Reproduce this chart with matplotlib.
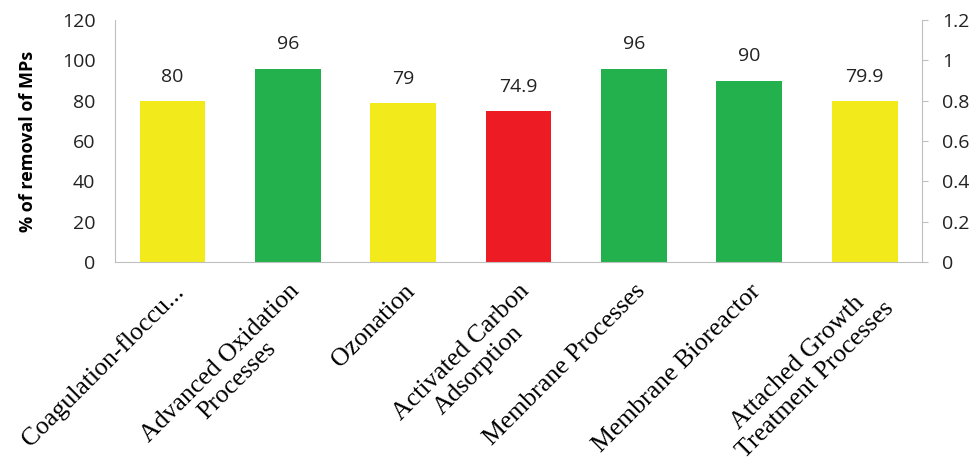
import matplotlib.pyplot as plt

# データ
categories = ["Coagulation-floccu...", "Advanced Oxidation\nProcesses", "Ozonation",
              "Activated Carbon\nAdsorption", "Membrane Processes", "Membrane Bioreactor",
              "Attached Growth\nTreatment Processes"]
removal = [80, 96, 79, 74.9, 96, 90, 79.9]
labels = ["80", "96", "79", "74.9", "96", "90", "79.9"]
colors = ["#F2EA1A", "#22B14C", "#F2EA1A", "#ED1C24", "#22B14C", "#22B14C", "#F2EA1A"]

fig = plt.figure(figsize=(9.73, 4.68), dpi=100)
ax = fig.add_axes([0.118, 0.440, 0.830, 0.517])

x = range(len(categories))
ax.bar(x, removal, width=0.57, color=colors)
for i, v in enumerate(removal):
    ax.text(i, v + 7.5, labels[i], ha="center", va="bottom", fontsize=14, family="Open Sans", color="#222222")

ax.set_xlim(-0.5, len(categories) - 0.5)
ax.set_ylim(0, 120)
ax.set_yticks(range(0, 121, 20))
ax.tick_params(axis="y", length=0, labelsize=14, pad=14, colors="#222222")
for t in ax.get_yticklabels():
    t.set_family("Open Sans")
ax.set_ylabel("% of removal of MPs", fontsize=13, fontweight="bold", family="Open Sans", labelpad=18)

ax.set_xticks(list(x))
ax.set_xticklabels(categories, rotation=45, ha="right", va="top", rotation_mode="anchor",
                   multialignment="center", family="Liberation Serif", fontsize=18.5,
                   linespacing=1.15)
ax.tick_params(axis="x", length=0, pad=13)

for s in ["top", "right"]:
    ax.spines[s].set_visible(False)
ax.spines["left"].set_color("#BFBFBF")
ax.spines["bottom"].set_color("#BFBFBF")

# 右側の軸
ax2 = ax.twinx()
ax2.set_ylim(0, 1.2)
ax2.set_yticks([0, 0.2, 0.4, 0.6, 0.8, 1, 1.2])
ax2.set_yticklabels(["0", "0.2", "0.4", "0.6", "0.8", "1", "1.2"])
ax2.tick_params(axis="y", length=4, labelsize=14, pad=10, colors="#222222")
ax2.tick_params(axis="y", color="#BFBFBF")
for t in ax2.get_yticklabels():
    t.set_family("Open Sans")
for s in ["top", "left", "bottom"]:
    ax2.spines[s].set_visible(False)
ax2.spines["right"].set_color("#BFBFBF")

fig.savefig("out.png")
